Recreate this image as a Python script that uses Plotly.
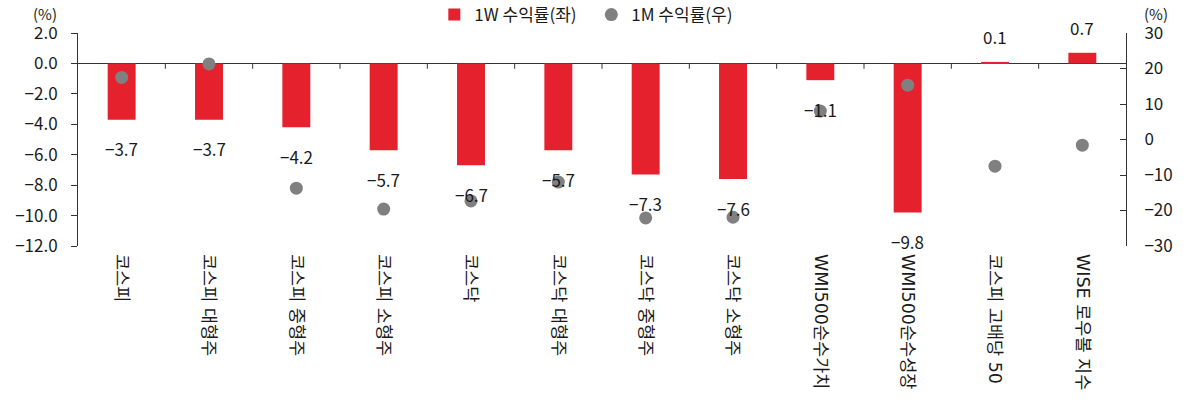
import plotly.graph_objects as go

categories = ["코스피", "코스피 대형주", "코스피 중형주", "코스피 소형주", "코스닥", "코스닥 대형주",
              "코스닥 중형주", "코스닥 소형주", "WMI500순수가치", "WMI500순수성장", "코스피 고배당 50", "WISE 로우볼 지수"]
ret_1w = [-3.7, -3.7, -4.2, -5.7, -6.7, -5.7, -7.3, -7.6, -1.1, -9.8, 0.1, 0.7]
ret_1m = [17.5, 21.3, -13.7, -19.6, -17.3, -12.0, -22.1, -21.9, 8.0, 15.3, -7.5, -1.6]
left_ticks = [2.0, 0.0, -2.0, -4.0, -6.0, -8.0, -10.0, -12.0]
right_ticks = [30, 20, 10, 0, -10, -20, -30]

FONT = "Noto Sans CJK KR"
CATFONT = "DejaVu Sans, Noto Sans CJK KR"
RED = "#E5212E"
GRAY = "#808080"
TXT = "#1a1a1a"

fig = go.Figure()
fig.add_trace(go.Bar(x=categories, y=ret_1w, name="1W 수익률(좌)", marker_color=RED,
                     marker_line_width=0, width=0.32, yaxis="y"))
fig.add_trace(go.Scatter(x=categories, y=ret_1m, name="1M 수익률(우)", mode="markers",
                         marker=dict(color=GRAY, size=13), yaxis="y2"))

def fmt(v):
    s = f"{abs(v):.1f}"
    return ("\u2212" + s) if v < 0 else s

for c, v in zip(categories, ret_1w):
    fig.add_annotation(x=c, y=v, xref="x", yref="y", text=fmt(v), showarrow=False,
                       yshift=-29 if v < 0 else 25,
                       font=dict(family=FONT, size=17, color=TXT))

# category boundary tick marks on the zero line
n = len(categories)
for k in range(1, n):
    fig.add_shape(type="line", xref="x", yref="y", x0=k - 0.5, x1=k - 0.5, y0=0, y1=-0.35,
                  line=dict(color="#333333", width=1))

fig.add_annotation(x=0.0, y=1.0, xref="paper", yref="paper", text="(%)", showarrow=False,
                   xanchor="right", yanchor="middle", xshift=-20, yshift=20, borderpad=0,
                   font=dict(family=FONT, size=15, color=TXT))
fig.add_annotation(x=1.0, y=1.0, xref="paper", yref="paper", text="(%)", showarrow=False,
                   xanchor="left", yanchor="middle", xshift=17, yshift=20, borderpad=0,
                   font=dict(family=FONT, size=15, color=TXT))

fig.update_layout(
    width=1186, height=405,
    margin=dict(l=78, r=60, t=33, b=159, autoexpand=False),
    plot_bgcolor="white", paper_bgcolor="white",
    font=dict(family=FONT, size=17, color=TXT),
    showlegend=True,
    legend=dict(orientation="h", x=0.34, xanchor="left", y=1.0, yanchor="bottom",
                font=dict(family=FONT, size=17, color=TXT), itemwidth=30,
                entrywidth=112, entrywidthmode="pixels",
                bgcolor="rgba(0,0,0,0)", traceorder="normal"),
    xaxis=dict(type="category", showline=False, ticks="", showgrid=False, tickangle=90,
               tickfont=dict(family=CATFONT, size=17.5, color=TXT),
               range=[-0.5, n - 0.5], zeroline=False, ticklabelstandoff=7),
    yaxis=dict(range=[-12, 2], tickvals=left_ticks, tickformat=".1f", showgrid=False,
               showline=True, linecolor="#333333", linewidth=1, ticks="outside", ticklen=6,
               tickcolor="#333333", zeroline=True, zerolinecolor="#333333", zerolinewidth=1,
               ticklabelstandoff=10,
               tickfont=dict(family=FONT, size=17, color=TXT)),
    yaxis2=dict(range=[-30, 30], tickvals=right_ticks, overlaying="y", side="right",
                showgrid=False, showline=True, linecolor="#333333", linewidth=1,
                ticks="inside", ticklen=6, tickcolor="#333333", zeroline=False,
                ticklabelstandoff=14,
                tickfont=dict(family=FONT, size=17, color=TXT)),
)

fig.write_html("out.html", config={"displayModeBar": False},
               post_script="document.body.style.margin='0';")
